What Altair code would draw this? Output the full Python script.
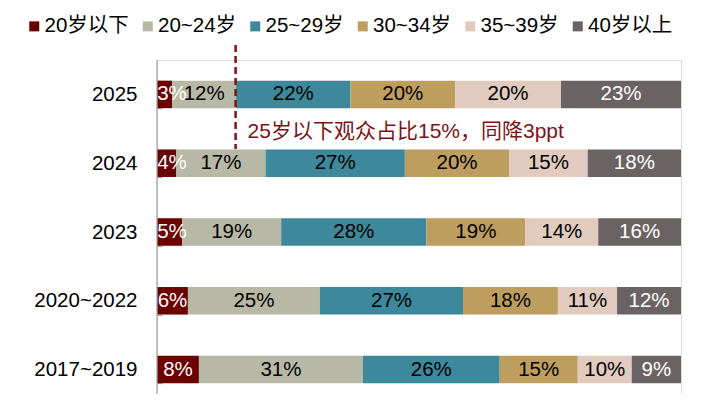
import altair as alt
import pandas as pd

periods = ["2025", "2024", "2023", "2020~2022", "2017~2019"]
groups = ["20岁以下", "20~24岁", "25~29岁", "30~34岁", "35~39岁", "40岁以上"]
share_2025 = [2.9, 12.2, 21.8, 20.0, 20.2, 22.9]
share_2024 = [3.7, 17.0, 26.6, 19.9, 15.0, 17.8]
share_2023 = [4.8, 18.9, 27.7, 18.9, 13.9, 15.8]
share_2020_2022 = [5.9, 25.2, 27.3, 18.1, 11.3, 12.2]
share_2017_2019 = [8.0, 31.3, 26.1, 14.9, 10.3, 9.4]
colors = ["#6B0000", "#B8B8A6", "#3D889A", "#BE9E5E", "#E0CBBE", "#6B6363"]
white_label_groups = ["20岁以下", "40岁以上"]
marker_share = [15]
annotation = ["25岁以下观众占比15%，同降3ppt"]

FONT = "Liberation Sans, Arial, 'Noto Sans CJK SC', sans-serif"
FS = 20.5
NOTE_COLOR = "#7B1416"
AXIS_GREY = "#A6A6A6"

rows = []
for period, shares in zip(periods, [share_2025, share_2024, share_2023,
                                    share_2020_2022, share_2017_2019]):
    for i, (g, v) in enumerate(zip(groups, shares)):
        rows.append({"period": period, "group": g, "order": i, "value": v})
df = pd.DataFrame(rows)

Y = alt.Y(
    "period:N",
    sort=periods,
    scale=alt.Scale(domain=periods, range=[0, 344], paddingInner=0.6, paddingOuter=0.3),
    axis=alt.Axis(
        title=None, domain=False, ticks=True, tickSize=5, tickBand="extent",
        tickColor=AXIS_GREY, tickWidth=1.3, offset=-5, labelPadding=20,
        labelFontSize=FS, labelColor="black", labelFont=FONT,
    ),
)

base = alt.Chart(df).transform_stack(
    stack="value", groupby=["period"], as_=["x0", "x1"],
    sort=[alt.SortField("order")], offset="normalize",
).transform_calculate(
    # centred in its segment, but never starting left of the bar's edge
    mid="max((datum.x0 + datum.x1) / 2, datum.x0 + 0.0286)",
    label="format(datum.value, '.0f') + '%'",
)

bars = base.mark_bar().encode(
    y=Y,
    x=alt.X("x0:Q", scale=alt.Scale(domain=[0, 1]), axis=None),
    x2="x1:Q",
    color=alt.Color(
        "group:N",
        scale=alt.Scale(domain=groups, range=colors),
        legend=alt.Legend(
            title=None, orient="none", legendX=-136, legendY=-44,
            direction="horizontal", symbolType="square", symbolSize=100,
            symbolStrokeWidth=0, symbolOffset=3, labelFontSize=FS, labelOffset=0,
            columnPadding=5.5, labelFont=FONT, labelColor="black", padding=0,
        ),
    ),
    order=alt.Order("order:Q"),
)

texts = base.mark_text(fontSize=FS, font=FONT, baseline="middle").encode(
    y=Y,
    x="mid:Q",
    text="label:N",
    color=alt.condition(
        alt.FieldOneOfPredicate(field="group", oneOf=white_label_groups),
        alt.value("#FFFFFF"), alt.value("#000000"),
    ),
)

marker_df = pd.DataFrame({"share": [v / 100 for v in marker_share], "note": annotation})

rule = alt.Chart(marker_df).mark_rule(
    color=NOTE_COLOR, strokeWidth=2.5, strokeDash=[7, 4]
).encode(x="share:Q", y=alt.value(-15), y2=alt.value(89))

note = alt.Chart(marker_df).mark_text(
    align="left", baseline="middle", dx=12, fontSize=21, font=FONT, color=NOTE_COLOR
).encode(x="share:Q", y=alt.value(72), text="note:N")

domain_line = alt.Chart(pd.DataFrame({"a": [0]})).mark_rule(
    color=AXIS_GREY, strokeWidth=1.3
).encode(x=alt.value(0), y=alt.value(0), y2=alt.value(344))

chart = alt.layer(bars, texts, rule, note, domain_line).properties(
    width=524, height=334,
    padding={"left": 149, "top": 52, "right": 18, "bottom": 0},
    autosize=alt.AutoSizeParams(type="none"),
).configure_view(stroke=None).configure(font=FONT)

chart.save("out.html", embed_options={"renderer": "svg", "actions": False})
